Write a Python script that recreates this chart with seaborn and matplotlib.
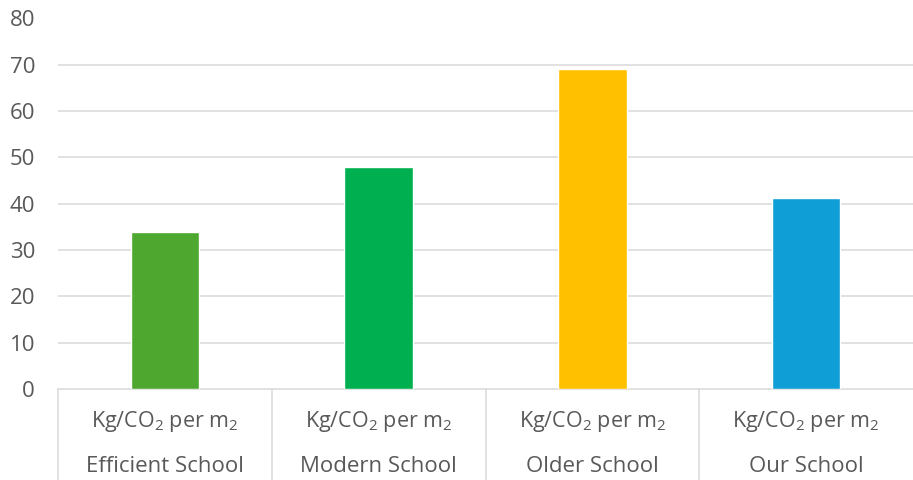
import matplotlib
matplotlib.use("Agg")
import matplotlib.pyplot as plt
import matplotlib.transforms as mtransforms
import seaborn as sns
import pandas as pd

schools = ["Efficient School", "Modern School", "Older School", "Our School"]
emissions = [34, 48, 69, 41.3]
unit_label = "Kg/CO$_2$ per m$_2$"
bar_colors = ["#4EA72E", "#00B050", "#FFC000", "#0F9ED5"]
y_ticks = [0, 10, 20, 30, 40, 50, 60, 70, 80]

sns.set_theme(style="white")
plt.rcParams["font.family"] = ["Open Sans", "DejaVu Sans"]
plt.rcParams["mathtext.fontset"] = "custom"
plt.rcParams["mathtext.rm"] = "Open Sans"
plt.rcParams["mathtext.it"] = "Open Sans"

text_color = "#595959"
grid_color = "#D9D9D9"

df = pd.DataFrame({"school": schools, "value": emissions})

fig = plt.figure(figsize=(9.13, 4.8), dpi=100)
ax = fig.add_axes([58 / 913, 91 / 480, 855 / 913, 370.5 / 480])

sns.barplot(data=df, x="school", y="value", hue="school", palette=bar_colors,
            width=0.32, saturation=1, legend=False, ax=ax, zorder=3)

ax.set_xlim(-0.5, len(schools) - 0.5)
ax.set_ylim(0, 80)
ax.set_yticks(y_ticks)
ax.set_yticklabels([str(t) for t in y_ticks], fontsize=16, color=text_color)
ax.tick_params(axis="y", length=0, pad=16.5)
ax.set_xticks([])
ax.set_xlabel("")
ax.set_ylabel("")

for t in y_ticks[1:]:
    ax.axhline(t, color=grid_color, linewidth=1.1, zorder=1)

for side in ["top", "right", "left"]:
    ax.spines[side].set_visible(False)
ax.spines["bottom"].set_color(grid_color)
ax.spines["bottom"].set_linewidth(1.1)

# two-level category axis: unit row, school row, boxed by separators
trans = mtransforms.blended_transform_factory(ax.transData, ax.transAxes)
for i, name in enumerate(schools):
    ax.text(i, -0.088, unit_label, transform=trans, ha="center", va="center",
            fontsize=15.5, color=text_color)
    ax.text(i, -0.208, name, transform=trans, ha="center", va="center",
            fontsize=16, color=text_color)
for b in [i - 0.5 for i in range(len(schools))]:
    ax.plot([b, b], [0, -0.3], transform=trans, color=grid_color,
            linewidth=1.1, clip_on=False)

fig.savefig("out.png", dpi=100)
